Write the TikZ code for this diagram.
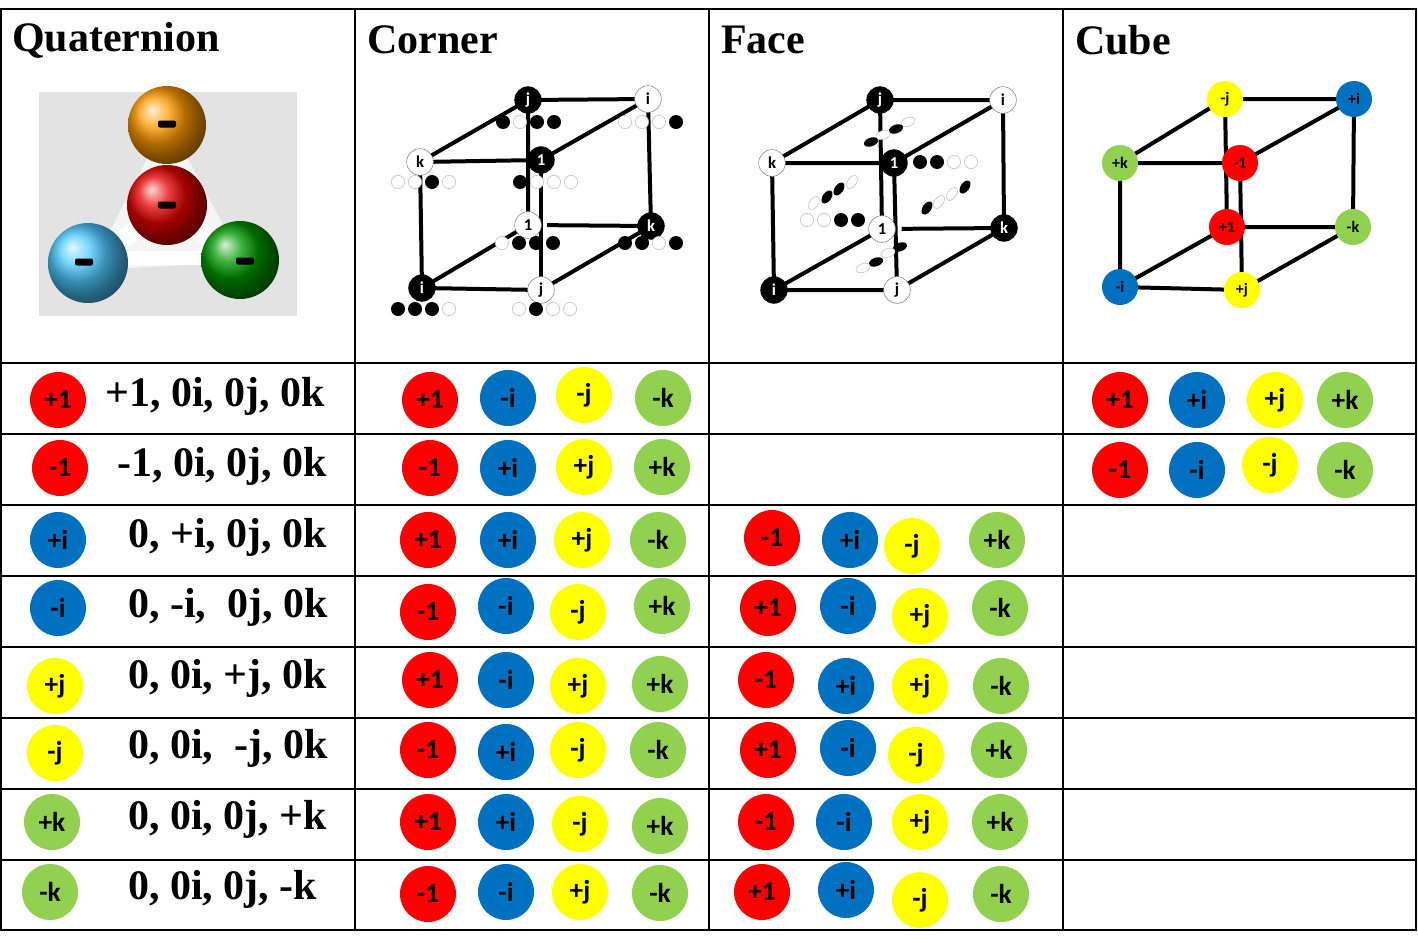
\documentclass[tikz,border=0pt]{standalone}
\usepackage{fontspec}
\usetikzlibrary{shapes.geometric,calc}
\setmainfont{Liberation Serif}
\newfontfamily\cb{Carlito}
\begin{document}
\begin{tikzpicture}[x=0.75pt,y=-0.75pt,
 qc/.style={circle,minimum size=42pt,inner sep=0pt,font=\cb\bfseries\fontsize{20.5}{20.5}\selectfont},
 sc/.style={circle,minimum size=27pt,inner sep=0pt,font=\cb\bfseries\fontsize{12}{12}\selectfont},
 wn/.style={circle,draw=gray,fill=white,minimum size=20pt,inner sep=0pt,font=\cb\bfseries\fontsize{12.5}{12.5}\selectfont},
 bn/.style={circle,draw=black,fill=black,text=white,minimum size=20pt,inner sep=0pt,font=\cb\bfseries\fontsize{12.5}{12.5}\selectfont},
 bd/.style={circle,fill=black,minimum size=10.5pt,inner sep=0pt},
 wd/.style={circle,draw=lightgray,fill=white,minimum size=10pt,inner sep=0pt},
 be/.style={ellipse,fill=black,minimum width=11pt,minimum height=6.5pt,inner sep=0pt},
 we/.style={ellipse,draw=lightgray,fill=white,minimum width=11pt,minimum height=6.5pt,inner sep=0pt},
 edge/.style={line width=3pt},
 hd/.style={anchor=west,inner sep=0pt,font=\bfseries\fontsize{31.5}{31.5}\selectfont},
 tx/.style={anchor=west,inner sep=0pt,font=\bfseries\fontsize{31.5}{31.5}\selectfont},
 grid/.style={line width=1.2pt}]
\definecolor{qr}{HTML}{FF0000}\definecolor{qb}{HTML}{0070C0}
\definecolor{qy}{HTML}{FFFF00}\definecolor{qg}{HTML}{92D050}
\useasboundingbox (0,0) rectangle (1418,939);
\fill[white] (0,0) rectangle (1418,939);
% grid
\draw[grid] (1,9) rectangle (1416,930);
\foreach \x in {355,709,1063} \draw[grid] (\x,9) -- (\x,930);
\foreach \y in {363,434,505,576,647,718,789,860} \draw[grid] (1,\y) -- (1416,\y);
% headers
\node[hd] (h1) at (12,40) {Quaternion};
\node[hd] (h2) at (367,40) {Corner};
\node[hd] (h3) at (721,40) {Face};
\node[hd] (h4) at (1075,40) {Cube};
% photo
\fill[gray!22] (39,92) rectangle (297,316);
\fill[white!92!gray] (90,270) -- (167,120) -- (243,262) -- cycle;
\draw[white,line width=14pt,line cap=round] (167,140) -- (167,200);
\draw[white,line width=14pt,line cap=round] (110,250) -- (167,205) -- (225,250);
\draw[white,line width=10pt] (125,258) -- (210,258);
\shade[ball color=orange!80!yellow] (167,125) circle (39);
\shade[ball color=cyan!70!blue!70] (88,263) circle (40);
\shade[ball color=green!60!black] (240,260) circle (39);
\shade[ball color=red!90!black] (167,205) circle (40);
\foreach \p in {(167,124),(167,205),(84,262),(245,261)}
 \fill[black,rounded corners=1.5pt] \p ++(-9,-3.5) rectangle ++(18,7);
% rows
\newcommand\qq[5]{\node[qc,fill=#5] (#1) at (#2,#3) {#4};}
\newcommand\smc[5]{\node[sc,fill=#5] (#1) at (#2,#3) {#4};}
\qq{q1}{58}{400}{+1}{qr}\node[tx] (t1) at (105,396) {+1, 0i, 0j, 0k};
\qq{q2}{60}{468}{-1}{qr}\node[tx] (t2) at (117,466) {-1, 0i, 0j, 0k};
\qq{q3}{58}{540}{+i}{qb}\node[tx] (t3) at (128,537) {0, +i, 0j, 0k};
\qq{q4}{58}{608}{-i}{qb}\node[tx] (t4) at (128,607) {0, -i,\ \ 0j, 0k};
\qq{q5}{55}{686}{+j}{qy}\node[tx] (t5) at (128,678) {0, 0i, +j, 0k};
\qq{q6}{55}{753}{-j}{qy}\node[tx] (t6) at (128,748) {0, 0i,\ \ -j, 0k};
\qq{q7}{52}{822}{+k}{qg}\node[tx] (t7) at (128,819) {0, 0i, 0j, +k};
\qq{q8}{50}{892}{-k}{qg}\node[tx] (t8) at (128,889) {0, 0i, 0j, -k};
% corner column
\qq{c11}{430}{400}{+1}{qr}\qq{c12}{508}{398}{-i}{qb}\qq{c13}{584}{395}{-j}{qy}\qq{c14}{663}{398}{-k}{qg}
\qq{c21}{430}{468}{-1}{qr}\qq{c22}{508}{468}{+i}{qb}\qq{c23}{584}{467}{+j}{qy}\qq{c24}{662}{467}{+k}{qg}
\qq{c31}{428}{540}{+1}{qr}\qq{c32}{508}{540}{+i}{qb}\qq{c33}{582}{540}{+j}{qy}\qq{c34}{658}{540}{-k}{qg}
\qq{c41}{428}{612}{-1}{qr}\qq{c42}{506}{606}{-i}{qb}\qq{c43}{578}{612}{-j}{qy}\qq{c44}{662}{606}{+k}{qg}
\qq{c51}{430}{680}{+1}{qr}\qq{c52}{506}{680}{-i}{qb}\qq{c53}{578}{686}{+j}{qy}\qq{c54}{660}{684}{+k}{qg}
\qq{c61}{428}{750}{-1}{qr}\qq{c62}{506}{752}{+i}{qb}\qq{c63}{578}{750}{-j}{qy}\qq{c64}{658}{750}{-k}{qg}
\qq{c71}{428}{822}{+1}{qr}\qq{c72}{506}{822}{+i}{qb}\qq{c73}{580}{824}{-j}{qy}\qq{c74}{660}{826}{+k}{qg}
\qq{c81}{428}{894}{-1}{qr}\qq{c82}{506}{892}{-i}{qb}\qq{c83}{580}{892}{+j}{qy}\qq{c84}{660}{893}{-k}{qg}
% face column
\qq{f31}{772}{538}{-1}{qr}\qq{f32}{850}{540}{+i}{qb}\qq{f33}{912}{546}{-j}{qy}\qq{f34}{997}{540}{+k}{qg}
\qq{f41}{768}{608}{+1}{qr}\qq{f42}{848}{606}{-i}{qb}\qq{f43}{920}{616}{+j}{qy}\qq{f44}{1000}{608}{-k}{qg}
\qq{f51}{766}{680}{-1}{qr}\qq{f52}{846}{686}{+i}{qb}\qq{f53}{920}{686}{+j}{qy}\qq{f54}{1001}{686}{-k}{qg}
\qq{f61}{768}{750}{+1}{qr}\qq{f62}{848}{748}{-i}{qb}\qq{f63}{916}{755}{-j}{qy}\qq{f64}{999}{750}{+k}{qg}
\qq{f71}{766}{822}{-1}{qr}\qq{f72}{844}{822}{-i}{qb}\qq{f73}{920}{822}{+j}{qy}\qq{f74}{1000}{822}{+k}{qg}
\qq{f81}{762}{892}{+1}{qr}\qq{f82}{846}{890}{+i}{qb}\qq{f83}{920}{900}{-j}{qy}\qq{f84}{1001}{894}{-k}{qg}
% cube column rows
\qq{u11}{1120}{400}{+1}{qr}\qq{u12}{1197}{400}{+i}{qb}\qq{u13}{1275}{400}{+j}{qy}\qq{u14}{1345}{400}{+k}{qg}
\qq{u21}{1120}{470}{-1}{qr}\qq{u22}{1197}{470}{-i}{qb}\qq{u23}{1270}{465}{-j}{qy}\qq{u24}{1345}{470}{-k}{qg}
% cube column cube
\coordinate (v1) at (1225,99);\coordinate (v2) at (1354,99);\coordinate (v3) at (1120,163);\coordinate (v4) at (1240,163);
\coordinate (v5) at (1227,227);\coordinate (v6) at (1353,227);\coordinate (v7) at (1120,287);\coordinate (v8) at (1242,290);
\draw[edge] (v1)--(v5) (v5)--(v6) (v5)--(v7);
\draw[edge] (v1)--(v2) (v1)--(v3) (v3)--(v4) (v4)--(v2) (v3)--(v7) (v4)--(v8) (v2)--(v6) (v7)--(v8) (v8)--(v6);
\smc{w1}{1225}{99}{-j}{qy}\smc{w2}{1354}{99}{+i}{qb}\smc{w3}{1120}{163}{+k}{qg}\smc{w4}{1240}{163}{-1}{qr}
\smc{w5}{1227}{227}{+1}{qr}\smc{w6}{1353}{227}{-k}{qg}\smc{w7}{1120}{287}{-i}{qb}\smc{w8}{1242}{290}{+j}{qy}
% corner cube
\coordinate (aj) at (528,100);\coordinate (ai) at (648,99);\coordinate (ak) at (420,162);\coordinate (a1) at (541,160);
\coordinate (b1) at (528,225);\coordinate (bk) at (651,226);\coordinate (bi) at (422,288);\coordinate (bj) at (541,290);
\draw[edge] (aj)--(b1) (b1)--(bk) (b1)--(bi);
\draw[edge] (aj)--(ai) (aj)--(ak) (ak)--(a1) (a1)--(ai) (ak)--(bi) (ai)--(bk) (bi)--(bj) (bj)--(bk);
\draw[white,line width=9pt] ($(a1)!0.15!(bj)$) -- ($(a1)!0.85!(bj)$);
\draw[edge] (a1)--(bj);
\node[bn] (naj) at (aj) {j};\node[wn] (nai) at (ai) {i};\node[wn] (nak) at (ak) {k};\node[bn] (na1) at (a1) {1};
\node[wn] (nb1) at (b1) {1};\node[bn] (nbk) at (bk) {k};\node[bn] (nbi) at (bi) {i};\node[wn] (nbj) at (bj) {j};
\newcommand\dotrow[6]{\foreach \t [count=\n] in {#3,#4,#5,#6}{\node[\t] at ({#1+17*(\n-1)},#2) {};}}
\dotrow{503}{122}{bd}{wd}{bd}{bd}
\dotrow{625}{122}{wd}{wd}{wd}{bd}
\dotrow{398}{182}{wd}{wd}{bd}{wd}
\dotrow{520}{182}{bd}{wd}{wd}{wd}
\dotrow{502}{243}{wd}{bd}{bd}{bd}
\dotrow{625}{243}{bd}{bd}{wd}{bd}
\dotrow{398}{309}{bd}{bd}{bd}{wd}
\dotrow{519}{309}{wd}{bd}{wd}{wd}
% face cube
\coordinate (fj) at (880,100);\coordinate (fi) at (1003,100);\coordinate (fk) at (772,163);\coordinate (f1) at (894,163);
\coordinate (gj1) at (882,229);\coordinate (gk) at (1004,228);\coordinate (gi) at (774,290);\coordinate (gj) at (897,290);
\draw[edge] (fj)--(gj1) (gj1)--(gk) (gj1)--(gi);
\draw[edge] (fj)--(fi) (fj)--(fk) (fk)--(f1) (f1)--(fi) (fk)--(gi) (fi)--(gk) (gi)--(gj) (gj)--(gk);
\draw[white,line width=9pt] ($(f1)!0.15!(gj)$) -- ($(f1)!0.85!(gj)$);
\draw[edge] (f1)--(gj);
\node[we,rotate=20] at (908,122) {};\node[be,rotate=20] at (896,129) {};\node[we,rotate=20] at (883,135) {};\node[be,rotate=20] at (871,142) {};
\dotrow{920}{162}{bd}{bd}{wd}{wd}
\node[we,rotate=55] at (814,203) {};\node[be,rotate=55] at (827,197) {};\node[be,rotate=55] at (839,189) {};\node[we,rotate=55] at (852,182) {};
\dotrow{807}{220}{wd}{wd}{bd}{bd}
\node[be,rotate=55] at (927,208) {};\node[we,rotate=55] at (939,202) {};\node[we,rotate=55] at (952,194) {};\node[be,rotate=55] at (965,187) {};
\node[be,rotate=20] at (900,247) {};\node[we,rotate=20] at (888,253) {};\node[be,rotate=20] at (876,262) {};\node[we,rotate=20] at (863,268) {};
\node[bn] (nfj) at (fj) {j};\node[wn] (nfi) at (fi) {i};\node[wn] (nfk) at (fk) {k};\node[bn] (nf1) at (f1) {1};
\node[wn] (ng1) at (gj1) {1};\node[bn] (ngk) at (gk) {k};\node[bn] (ngi) at (gi) {i};\node[wn] (ngj) at (gj) {j};
\end{tikzpicture}
\end{document}
